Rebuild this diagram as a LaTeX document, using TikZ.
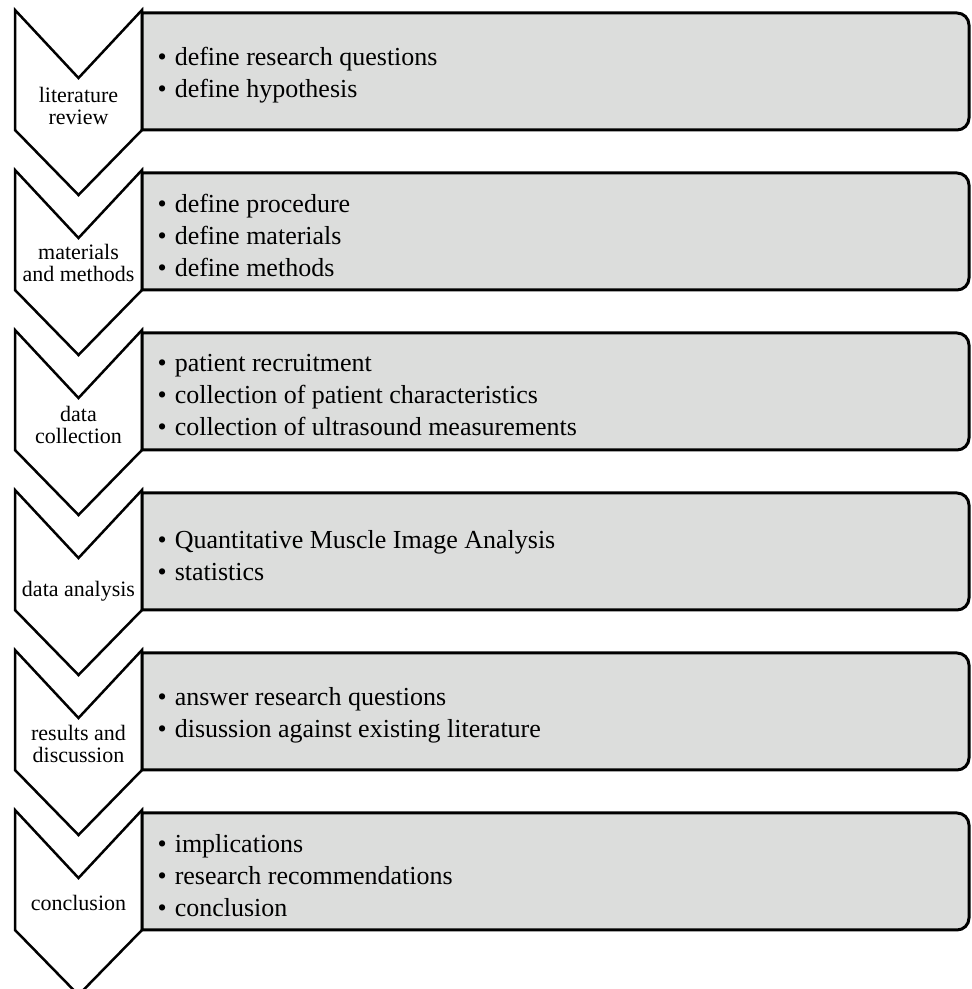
\documentclass[tikz,border=0pt]{standalone}
\usepackage{fontspec}
\setmainfont{Liberation Serif}
\usepackage{xcolor}
\usepackage{tikz}
\definecolor{boxgray}{RGB}{220,221,220}
\newcommand{\bulletitem}{\textbullet\hspace{8pt}}

\begin{document}
\begin{tikzpicture}[x=1pt, y=1pt,
  chevron/.style={draw, line width=2.5pt, fill=white},
  stagebox/.style={draw, line width=3pt, fill=boxgray},
  lbl/.style={align=center, inner sep=0pt, font=\fontsize{22}{22.5}\selectfont},
  items/.style={align=left, anchor=west, inner sep=0pt, font=\fontsize{26}{32}\selectfont}
]
\useasboundingbox (0,0) rectangle (972,989);
\foreach \i/\off/\lab/\txt in {
  0/96/{literature\\review}/{\bulletitem define research questions\\\bulletitem define hypothesis},
  1/93/{materials\\and methods}/{\bulletitem define procedure\\\bulletitem define materials\\\bulletitem define methods},
  2/95/{data\\collection}/{\bulletitem patient recruitment\\\bulletitem collection of patient characteristics\\\bulletitem collection of ultrasound measurements},
  3/101/{data analysis}/{\bulletitem Quantitative Muscle Image Analysis\\\bulletitem statistics},
  4/94/{results and\\discussion}/{\bulletitem answer research questions\\\bulletitem disussion against existing literature},
  5/93/{conclusion}/{\bulletitem implications\\\bulletitem research recommendations\\\bulletitem conclusion}} {
  \pgfmathsetmacro{\T}{979-160*\i}
  % stage arrow
  \draw[chevron] (15,\T) -- (78.5,\T-68) -- (142,\T) -- (142,\T-120)
    -- (78.5,\T-185) -- (15,\T-120) -- cycle;
  % box, rounded on the right only
  \draw[stagebox] (142,\T-120) -- (142,\T-3) -- (957,\T-3)
    arc[start angle=90, end angle=0, radius=12] -- (969,\T-108)
    arc[start angle=0, end angle=-90, radius=12] -- cycle;
  \node[lbl] (lab\i) at (78.5,\T-\off) {\lab};
  \node[items] (txt\i) at (157.5,\T-65.5) {\txt};
}
\end{tikzpicture}
\end{document}
